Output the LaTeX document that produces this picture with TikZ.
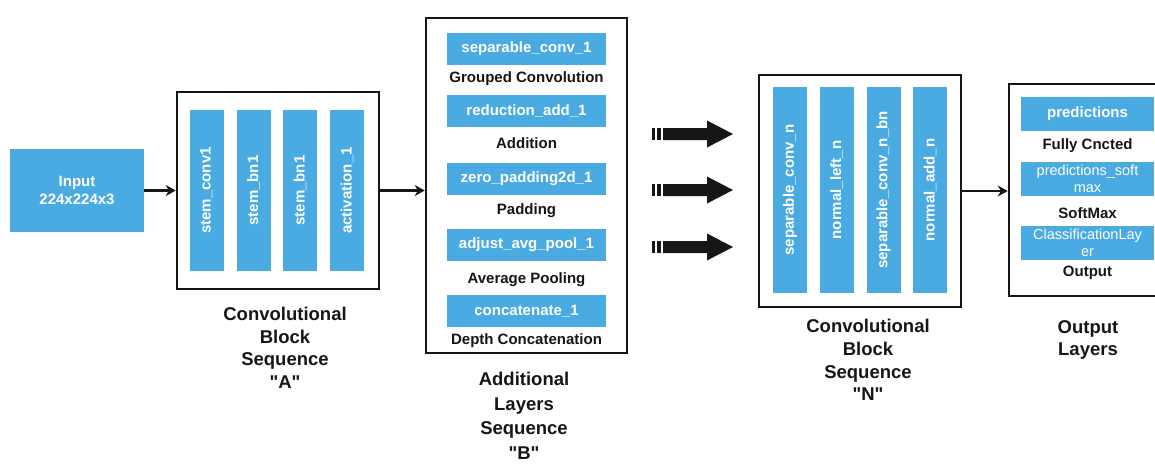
\documentclass[tikz,border=0pt]{standalone}
\usepackage{fontspec}
\setmainfont{Liberation Sans}
\usetikzlibrary{arrows.meta}
\definecolor{barblue}{RGB}{74,170,226}
\definecolor{ink}{RGB}{22,22,22}

\tikzset{
  frame/.style={draw=ink, line width=2.6pt, fill=white, inner sep=0pt},
  bar/.style={fill=barblue, text=white, inner sep=0pt, align=center,
    font=\bfseries\fontsize{15}{18}\selectfont},
  thinbar/.style={bar, font=\fontsize{14.5}{17.5}\selectfont},
  layerlbl/.style={text=ink, inner sep=0pt, font=\bfseries\fontsize{15}{18}\selectfont},
  caption/.style={text=ink, inner sep=0pt, align=center,
    font=\bfseries\fontsize{18.5}{#1}\selectfont},
  conn/.style={draw=ink, line width=2.8pt, -{Stealth[length=10pt,width=11pt]}},
  contarrow/.pic={
    \fill[ink] (0,-6) rectangle (3,6);
    \fill[ink] (5,-6) rectangle (9,6);
    \fill[ink] (11,-6) -- (55,-6) -- (55,-13.5) -- (81,0) -- (55,13.5) -- (55,6) -- (11,6) -- cycle;
  }
}
\newcommand{\qt}[1]{\textquotedbl#1\textquotedbl}

\begin{document}
\begin{tikzpicture}[x=1pt,y=-1pt]
\useasboundingbox (0,0) rectangle (1155,464);
\clip (0,0) rectangle (1155,464);

% input image
\node[bar, minimum width=134pt, minimum height=83pt] (input) at (77,190.5)
  {Input\\224x224x3};

% convolutional block sequence A
\node[frame, minimum width=202pt, minimum height=197pt] (blockA) at (278,190.5) {};
\node[bar, rotate=90, minimum width=161pt, minimum height=34pt] (a1) at (206.5,190.5) {stem\_conv1};
\node[bar, rotate=90, minimum width=161pt, minimum height=34pt] (a2) at (253.5,190.5) {stem\_bn1};
\node[bar, rotate=90, minimum width=161pt, minimum height=34pt] (a3) at (300,190.5) {stem\_bn1};
\node[bar, rotate=90, minimum width=161pt, minimum height=34pt] (a4) at (347,190.5) {activation\_1};
\node[caption=22.5pt] (capA) at (285,348) {Convolutional\\Block\\Sequence\\\qt{A}};

% additional layers sequence B
\node[frame, minimum width=201pt, minimum height=335pt] (blockB) at (526.5,185.5) {};
\node[bar, minimum width=159pt, minimum height=32pt] (b1) at (526.5,49) {separable\_conv\_1};
\node[layerlbl] (b1l) at (526.5,79) {Grouped Convolution};
\node[bar, minimum width=159pt, minimum height=32pt] (b2) at (526.5,111) {reduction\_add\_1};
\node[layerlbl] (b2l) at (526.5,143) {Addition};
\node[bar, minimum width=159pt, minimum height=32pt] (b3) at (526.5,179) {zero\_padding2d\_1};
\node[layerlbl] (b3l) at (526.5,211) {Padding};
\node[bar, minimum width=159pt, minimum height=32pt] (b4) at (526.5,244.5) {adjust\_avg\_pool\_1};
\node[layerlbl] (b4l) at (526.5,280) {Average Pooling};
\node[bar, minimum width=159pt, minimum height=32pt] (b5) at (526.5,311) {concatenate\_1};
\node[layerlbl] (b5l) at (526.5,341) {Depth Concatenation};
\node[caption=24.5pt] (capB) at (524,416) {Additional\\Layers\\Sequence\\\qt{B}};

% repeated blocks
\pic at (652,134) {contarrow};
\pic at (652,190) {contarrow};
\pic at (652,247) {contarrow};

% convolutional block sequence N
\node[frame, minimum width=202pt, minimum height=232pt] (blockN) at (860,191) {};
\node[bar, rotate=90, minimum width=206pt, minimum height=34pt] (n1) at (790,190) {separable\_conv\_n};
\node[bar, rotate=90, minimum width=206pt, minimum height=34pt] (n2) at (836.5,190) {normal\_left\_n};
\node[bar, rotate=90, minimum width=206pt, minimum height=34pt] (n3) at (883.5,190) {separable\_conv\_n\_bn};
\node[bar, rotate=90, minimum width=206pt, minimum height=34pt] (n4) at (930,190) {normal\_add\_n};
\node[caption=22.7pt] (capN) at (868,360) {Convolutional\\Block\\Sequence\\\qt{N}};

% output layers
\node[frame, minimum width=157pt, minimum height=212pt] (out) at (1087.5,190) {};
\node[bar, minimum width=133pt, minimum height=34pt] (o1) at (1087.5,114) {predictions};
\node[layerlbl] (o1l) at (1087.5,146) {Fully Cncted};
\node[thinbar, minimum width=133pt, minimum height=34pt] (o2) at (1087.5,179) {predictions\_soft\\max};
\node[layerlbl] (o2l) at (1087.5,213) {SoftMax};
\node[thinbar, minimum width=133pt, minimum height=34pt] (o3) at (1087.5,243) {ClassificationLay\\er};
\node[layerlbl] (o3l) at (1087.5,273) {Output};
\node[caption=22pt] (capO) at (1088,340) {Output\\Layers};

% connectors
\draw[conn] (input.east) -- (input.east -| blockA.west);
\draw[conn] (blockA.east) -- (blockA.east -| blockB.west);
\draw[conn] (blockN.east) -- (blockN.east -| out.west);
\end{tikzpicture}
\end{document}
